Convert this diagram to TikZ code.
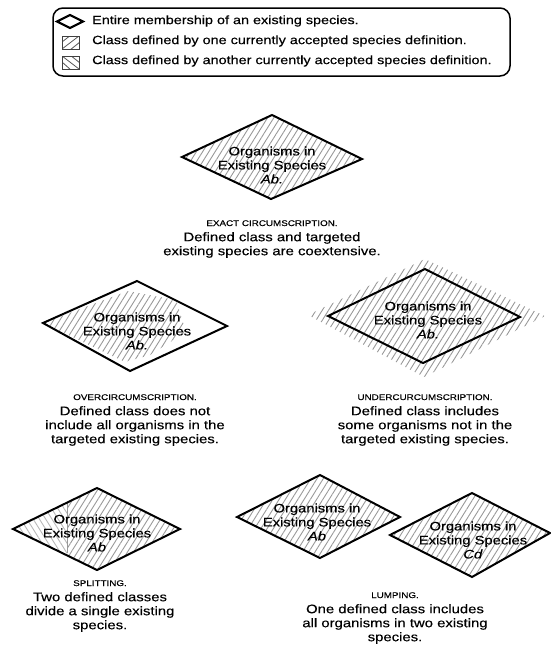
\documentclass[tikz,border=0pt]{standalone}
\usepackage{fontspec}
\setmainfont{Liberation Sans}[FakeStretch=1.2,FakeBold=0.35]
\usetikzlibrary{patterns.meta}
\begin{document}
\begin{tikzpicture}[x=1pt,y=-1pt,
  dia/.style={draw=black, line width=2pt, line join=miter},
  hatch/.style={pattern={Lines[angle=58,distance=5.3pt,line width=0.9pt]}, pattern color=black!40},
  hatchb/.style={pattern={Lines[angle=122,distance=5.3pt,line width=0.9pt]}, pattern color=black!28},
  dtext/.style={align=center, font=\fontsize{12.3}{14}\selectfont, inner sep=0pt},
  head/.style={font=\fontsize{8.2}{10}\selectfont, inner sep=0pt, anchor=base},
  body/.style={align=center, font=\fontsize{12.4}{14}\selectfont, inner sep=0pt, anchor=north},
  legtext/.style={font=\fontsize{12}{14}\selectfont, inner sep=0pt, anchor=west},
  sqbox/.style={draw=black!75, line width=0.9pt},
  sqline/.style={draw=black!65, line width=0.8pt}]
\useasboundingbox (0,0) rectangle (551,646);

% ---------- legend ----------
\draw[line width=1.5pt, rounded corners=10pt] (53,8) rectangle (510,76);
\draw[line width=2.2pt, line join=miter] (57,21.5) -- (70,15) -- (83,21.5) -- (70,28) -- cycle;
\node[legtext] (l1) at (92,21) {Entire membership of an existing species.};
\begin{scope}
  \clip (62,36) rectangle (79,49);
  \draw[sqline] (62,49) -- (79,36);
  \draw[sqline] (62,42) -- (71,35);
  \draw[sqline] (70,50) -- (80,42);
\end{scope}
\draw[sqbox] (62,36) rectangle (79,49);
\node[legtext] (l2) at (92,41) {Class defined by one currently accepted species definition.};
\begin{scope}
  \clip (62,56) rectangle (79,69);
  \draw[sqline] (62,56) -- (79,69);
  \draw[sqline] (62,62) -- (71,70);
  \draw[sqline] (70,55) -- (80,63);
\end{scope}
\draw[sqbox] (62,56) rectangle (79,69);
\node[legtext] (l3) at (92,61) {Class defined by another currently accepted species definition.};

% ---------- exact circumscription ----------
\fill[hatch] (182,157) -- (272,115) -- (362,159) -- (271,199) -- cycle;
\draw[dia] (182,157) -- (272,115) -- (362,159) -- (271,199) -- cycle;
\node[dtext] (t1) at (272,165) {Organisms in\\Existing Species\\\textit{Ab.}};
\node[head] (h1) at (272,226) {EXACT CIRCUMSCRIPTION.};
\node[body] (b1) at (272,232) {Defined class and targeted\\existing species are coextensive.};

% ---------- overcircumscription ----------
\fill[hatch] (43,323) -- (128,291) -- (176,300) -- (186,332) -- (150,355) -- (125,362) -- cycle;
\draw[dia] (43,323) -- (137,281) -- (227,326) -- (130,371) -- cycle;
\node[dtext] (t2) at (137,331) {Organisms in\\Existing Species\\\textit{Ab.}};
\node[head] (h2) at (135,400) {OVERCIRCUMSCRIPTION.};
\node[body] (b2) at (135,406) {Defined class does not\\include all organisms in the\\targeted existing species.};

% ---------- undercircumscription ----------
\fill[hatch] (308,315) -- (425,259) -- (545,316) -- (424,377) -- cycle;
\draw[dia] (328,316) -- (425,269) -- (520,317) -- (423,363) -- cycle;
\node[dtext] (t3) at (428,320) {Organisms in\\Existing Species\\\textit{Ab.}};
\node[head] (h3) at (425,400) {UNDERCURCUMSCRIPTION.};
\node[body] (b3) at (425,406) {Defined class includes\\some organisms not in the\\targeted existing species.};

% ---------- splitting ----------
\begin{scope}
  \clip (13,529) -- (97,488) -- (180,529) -- (97,570) -- cycle;
  \fill[hatchb] (0,480) rectangle (67,580);
  \fill[hatch] (67,480) rectangle (190,580);
  \draw[black!40, line width=0.6pt] (67,500) -- (67,553);
\end{scope}
\draw[dia] (13,529) -- (97,488) -- (180,529) -- (97,570) -- cycle;
\node[dtext] (t4) at (97,533) {Organisms in\\Existing Species\\\textit{Ab}};
\node[head] (h4) at (100,586) {SPLITTING.};
\node[body] (b4) at (100,592) {Two defined classes\\divide a single existing\\species.};

% ---------- lumping ----------
\fill[hatch] (237,517) -- (320,475) -- (400,517) -- (320,558) -- cycle;
\draw[dia] (237,517) -- (320,475) -- (400,517) -- (320,558) -- cycle;
\node[dtext] (t5) at (317,522) {Organisms in\\Existing Species\\\textit{Ab}};
\fill[hatch] (390,535) -- (472,493) -- (550,533) -- (472,577) -- cycle;
\draw[dia] (390,535) -- (472,493) -- (550,533) -- (472,577) -- cycle;
\node[dtext] (t6) at (473,540) {Organisms in\\Existing Species\\\textit{Cd}};
\node[head] (h5) at (395,598) {LUMPING.};
\node[body] (b5) at (395,604) {One defined class includes\\all organisms in two existing\\species.};
\end{tikzpicture}
\end{document}
